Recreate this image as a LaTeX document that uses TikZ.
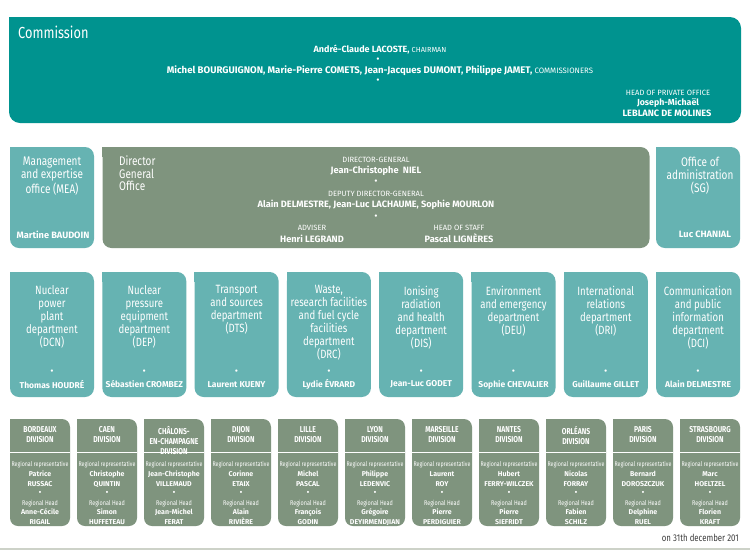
\documentclass[tikz,border=0pt]{standalone}
\usepackage{fontspec}
\setmainfont{Fira Sans}[FakeStretch=0.8]
\newfontfamily\nf{Fira Sans}
\usetikzlibrary{backgrounds}
\definecolor{comm}{RGB}{0,147,143}
\definecolor{dept}{RGB}{102,179,178}
\definecolor{gg}{RGB}{127,148,126}
\definecolor{lnk}{RGB}{168,168,168}
\definecolor{foot}{RGB}{205,210,200}
\definecolor{datec}{RGB}{60,60,60}
\newcommand{\fs}[2]{\fontsize{#1}{#2}\selectfont}
\begin{document}
\begin{tikzpicture}[x=1pt,y=-1pt,
  conn/.style={draw=lnk, line width=0.9pt},
  commbox/.style={fill=comm, rounded corners=11pt, inner sep=0pt, minimum width=732pt, minimum height=106pt},
  sidebox/.style={fill=dept, rounded corners=9pt, inner sep=0pt, minimum width=84pt, minimum height=101pt},
  dgbox/.style={fill=gg, rounded corners=9pt, inner sep=0pt, minimum width=547pt, minimum height=101pt},
  deptbox/.style={fill=dept, rounded corners=9pt, inner sep=0pt, minimum width=84pt, minimum height=125pt},
  divbox/.style={fill=gg, rounded corners=8pt, inner sep=0pt, minimum width=60pt, minimum height=107pt},
  txt/.style={text=white, inner sep=0pt, align=center},
  btxt/.style={txt, font=\nf\bfseries\fs{9.2}{11}},
  stxt/.style={txt, font=\nf\fs{7.6}{9}},
  dot/.style={txt, font=\nf\fs{10}{10}},
]
\useasboundingbox (0,0) rectangle (750,550);
\fill[white] (0,0) rectangle (750,550);

% Commission
\node[commbox] (comm) at (375,70) {};
\fill[comm] (comm.north west) rectangle ++(12,12);
\node[txt, anchor=west, font=\fs{16}{18}] (commt) at (18,32) {Commission};
\node[btxt, font=\nf\bfseries\fs{9}{11}] (chair) at (380,50) {André-Claude LACOSTE, {\mdseries\fs{7.3}{9}CHAIRMAN}};
\node[dot] (cd1) at (378,60.5) {•};
\node[btxt, font=\nf\bfseries\fs{9.6}{11}] (commrs) at (380,71) {Michel BOURGUIGNON, Marie-Pierre COMETS, Jean-Jacques DUMONT, Philippe JAMET, {\mdseries\fs{7.8}{9}COMMISSIONERS}};
\node[dot] (cd2) at (378,81) {•};
\node[stxt] (hpo) at (668,93) {HEAD OF PRIVATE OFFICE};
\node[btxt, font=\nf\bfseries\fs{8.8}{11}] (hpo1) at (668,102.5) {Joseph-Michaël};
\node[btxt] (hpo2) at (667,113) {LEBLANC DE MOLINES};

% Second row
\node[sidebox] (mea) at (52,197.5) {};
\fill[dept] (mea.north west) rectangle ++(10,10);
\node[dgbox] (dg) at (376,197.5) {};
\fill[gg] (dg.north west) rectangle ++(10,10);
\node[sidebox] (sg) at (698,197.5) {};
\fill[dept] (sg.north west) rectangle ++(10,10);

\node[txt, anchor=north, font=\fs{12.5}{13}] (meat) at (52,157) {Management\\and expertise\\office (MEA)};
\node[btxt] (mean) at (53,234.5) {Martine BAUDOIN};
\node[txt, anchor=north, font=\fs{12.5}{13}] (sgt) at (700,157) {Office of\\administration\\(SG)};
\node[btxt] (sgn) at (705,234.5) {Luc CHANIAL};

\node[txt, anchor=north west, align=left, font=\fs{12.5}{12.5}] (dgt) at (119,156) {Director\\General\\Office};
\node[stxt] (dgl1) at (376,159.5) {DIRECTOR-GENERAL};
\node[btxt] (dgl2) at (376,170.5) {Jean-Christophe\ \ NIEL};
\node[dot] (dgd1) at (376,182) {•};
\node[stxt] (dgl3) at (376,194) {DEPUTY DIRECTOR-GENERAL};
\node[btxt] (dgl4) at (376,205) {Alain DELMESTRE, Jean-Luc LACHAUME, Sophie MOURLON};
\node[dot] (dgd2) at (376,217.5) {•};
\node[stxt] (adv) at (312,228) {ADVISER};
\node[btxt] (advn) at (312,238.5) {Henri LEGRAND};
\node[stxt] (hos) at (459,228) {HEAD OF STAFF};
\node[btxt] (hosn) at (459,238.5) {Pascal LIGNÈRES};

\coordinate (deptbar) at (375,261);
\coordinate (divbar) at (375,408);

% Departments
\foreach \i/\ttl/\nm [evaluate=\i as \cx using 52+92.3*(\i-1)] in {
  1/{Nuclear\\power\\plant\\department\\(DCN)}/{Thomas HOUDRÉ},
  2/{Nuclear\\pressure\\equipment\\department\\(DEP)}/{Sébastien CROMBEZ},
  3/{Transport\\and sources\\department\\(DTS)}/{Laurent KUENY},
  4/{Waste,\\research facilities\\and fuel cycle\\facilities\\department\\(DRC)}/{Lydie ÉVRARD},
  5/{Ionising\\radiation\\and health\\department\\(DIS)}/{Jean-Luc GODET},
  6/{Environment\\and emergency\\department\\(DEU)}/{Sophie CHEVALIER},
  7/{International\\relations\\department\\(DRI)}/{Guillaume GILLET},
  8/{Communication\\and public\\information\\department\\(DCI)}/{Alain DELMESTRE}} {
  \node[deptbox] (p\i) at (\cx,334.5) {};
  \fill[dept] (p\i.north west) rectangle ++(10,10);
  \node[txt, anchor=north, font=\fs{12}{13}] (pt\i) at (\cx,285.5) {\ttl};
  \node[dot] (pd\i) at (\cx,372) {•};
  \node[btxt, font=\nf\bfseries\fs{8.5}{10}] (pn\i) at (\cx,384.5) {\nm};
  \begin{scope}[on background layer]
    \draw[conn] (p\i.north) -- (p\i.north |- deptbar);
  \end{scope}
}

% Divisions
\foreach \i/\hd/\ra/\rb/\ha/\hb [evaluate=\i as \cx using 40+67*(\i-1)] in {
  1/{BORDEAUX\\DIVISION}/Patrice/RUSSAC/Anne-Cécile/RIGAIL,
  2/{CAEN\\DIVISION}/Christophe/QUINTIN/Simon/HUFFETEAU,
  3/{CHÂLONS-\\EN-CHAMPAGNE\\DIVISION}/Jean-Christophe/VILLEMAUD/Jean-Michel/FERAT,
  4/{DIJON\\DIVISION}/Corinne/ETAIX/Alain/RIVIÈRE,
  5/{LILLE\\DIVISION}/Michel/PASCAL/François/GODIN,
  6/{LYON\\DIVISION}/Philippe/LEDENVIC/Grégoire/DEYIRMENDJIAN,
  7/{MARSEILLE\\DIVISION}/Laurent/ROY/Pierre/PERDIGUIER,
  8/{NANTES\\DIVISION}/Hubert/FERRY-WILCZEK/Pierre/SIEFRIDT,
  9/{ORLÉANS\\DIVISION}/Nicolas/FORRAY/Fabien/SCHILZ,
  10/{PARIS\\DIVISION}/Bernard/DOROSZCZUK/Delphine/RUEL,
  11/{STRASBOURG\\DIVISION}/Marc/HOELTZEL/Florien/KRAFT} {
  \node[divbox] (v\i) at (\cx,472.5) {};
  \fill[gg] (v\i.north west) rectangle ++(8,8);
  \draw[white, line width=1pt] (\cx-30,452) -- (\cx+30,452);
  \node[txt, anchor=north, font=\bfseries\fs{8.5}{10}] (vh\i) at (\cx,426.5) {\hd};
  \node[txt, anchor=north, font=\fs{7.5}{9.6}] (vb\i) at (\cx,461.5) {{\fs{6.6}{9.6}Regional representative}\\{\nf\bfseries\fs{7}{9.6}\ra}\\{\nf\bfseries\fs{7}{9.6}\rb}\\{\nf\fs{9}{9.6}•}\\{\fs{6.8}{9.6}Regional Head}\\{\nf\bfseries\fs{7}{9.6}\ha}\\{\nf\bfseries\fs{7}{9.6}\hb}};
  \begin{scope}[on background layer]
    \draw[conn] (v\i.north) -- (v\i.north |- divbar);
  \end{scope}
}

% Connectors
\begin{scope}[on background layer]
  \draw[conn] (comm.south) -- (divbar);
  \draw[conn] (mea.east) -- (sg.west);
  \draw[conn] (p1.north |- deptbar) -- (p8.north |- deptbar);
  \draw[conn] (v1.north |- divbar) -- (v11.north |- divbar);
\end{scope}

% Footer
\node[anchor=east, inner sep=0pt, text=datec, font=\fs{9.8}{11}] (date) at (739,538) {on 31th december 201};
\draw[foot, line width=2pt] (0,549) -- (750,549);
\end{tikzpicture}
\end{document}
